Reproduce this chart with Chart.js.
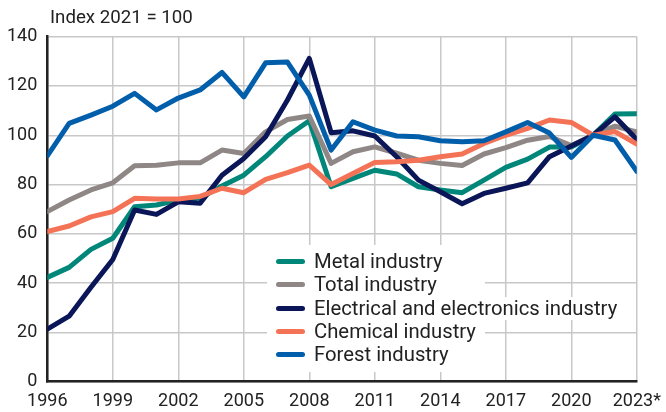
<!DOCTYPE html>
<html>
<head>
  <title>Industry index</title>
  <script src="https://cdn.jsdelivr.net/npm/chart.js"></script>
  <style>
    body { margin: 0; background: #fff; font-family: Roboto, sans-serif; color: #222; }
    #wrap { position: relative; width: 666px; height: 412px; }
    #title { position: absolute; left: 50px; top: 5px; font-size: 18.7px; line-height: 24px; }
    #legend { position: absolute; left: 267px; top: 245px; width: 218px; height: 127px; background: #fff; box-sizing: border-box; padding: 5px 0 0 9px; }
    .row { display: table; height: 23.3px; background: #fff; padding-right: 7px; font-size: 20.3px; line-height: 23.3px; white-space: nowrap; }
    .swatch { display: inline-block; width: 29px; height: 5px; border-radius: 3px; vertical-align: middle; margin-right: 9px; position: relative; top: -1px; }
  </style>
</head>
<body>
  <div id="wrap">
    <canvas id="chart" width="666" height="412"></canvas>
    <div id="title">Index 2021 = 100</div>
    <div id="legend"></div>
  </div>

  <script>
    const years = [1996, 1997, 1998, 1999, 2000, 2001, 2002, 2003, 2004, 2005, 2006, 2007, 2008, 2009,
                   2010, 2011, 2012, 2013, 2014, 2015, 2016, 2017, 2018, 2019, 2020, 2021, 2022, 2023];

    const metal = [42.3, 46.4, 53.7, 58.2, 71, 71.7, 73.7, 74.5, 79.4, 83.8, 91.3, 99.7, 105.9, 79.1,
                   82.5, 85.8, 84.3, 79.1, 77.8, 76.7, 81.8, 87, 90.3, 95.2, 95.2, 100, 108.6, 108.7];
    const total = [69, 73.7, 77.8, 80.7, 87.6, 87.8, 88.8, 88.8, 94, 92.6, 101.4, 106.4, 107.8, 88.6,
                   93.3, 95.3, 92.7, 89.9, 88.6, 87.7, 92.4, 95, 98, 99.5, 95.8, 100, 103.7, 101.3];
    const electrical = [21.3, 26.6, 38.3, 49.6, 69.7, 67.9, 73, 72.4, 83.8, 90.6, 99.4, 114.3, 131.2, 101,
                        101.8, 99.7, 91.3, 81.8, 77.1, 72.2, 76.4, 78.5, 80.7, 91.3, 95.6, 100, 107.5, 98.3];
    const chemical = [60.9, 63.2, 66.9, 69, 74.4, 74.1, 74.1, 75.2, 78.5, 76.7, 82.1, 84.8, 87.9, 80,
                      84.5, 89, 89.3, 89.9, 91.3, 92.4, 96.7, 100, 102.8, 106.2, 105.2, 100, 101.5, 96.4];
    const forest = [91.6, 104.8, 108.2, 111.8, 117, 110.3, 115.1, 118.4, 125.5, 115.6, 129.4, 129.7, 116.3, 94,
                    105.5, 102.1, 99.7, 99.4, 97.8, 97.4, 97.8, 101.4, 105.2, 100.9, 91, 100, 98.1, 85.4];

    // legend order, first one is drawn at the bottom
    const series = [
      { label: 'Metal industry', values: metal, color: '#00877a' },
      { label: 'Total industry', values: total, color: '#8e8786' },
      { label: 'Electrical and electronics industry', values: electrical, color: '#0a1658' },
      { label: 'Chemical industry', values: chemical, color: '#f47356' },
      { label: 'Forest industry', values: forest, color: '#005eab' },
    ];

    const datasets = series.slice().reverse().map(s => ({
      label: s.label,
      data: years.map((y, i) => ({ x: y, y: s.values[i] })),
      borderColor: s.color,
      backgroundColor: s.color,
      borderWidth: 5,
      borderCapStyle: 'round',
      borderJoinStyle: 'round',
      pointRadius: 0,
      tension: 0,
      fill: false,
    }));

    const tickFont = { family: 'Roboto', size: 18 };

    new Chart(document.getElementById('chart').getContext('2d'), {
      type: 'line',
      data: { datasets: datasets },
      options: {
        responsive: false,
        animation: false,
        layout: { padding: { top: 36.7, right: 29.2, left: 0, bottom: 0 } },
        plugins: { legend: { display: false }, tooltip: { enabled: false } },
        scales: {
          x: {
            type: 'linear',
            min: 1996,
            max: 2023,
            // keep the plot edges where the reference has them
            afterFit: s => { s.height = 30.3; s.paddingLeft = 0; s.paddingRight = 0; },
            ticks: {
              stepSize: 3,
              autoSkip: false,
              maxRotation: 0,
              padding: 9,
              color: '#222',
              font: tickFont,
              callback: v => v === 2023 ? '2023*' : String(v),
            },
            grid: { color: '#c8c8c8', lineWidth: 1.5, drawTicks: false },
            border: { color: '#222', width: 2.5 },
          },
          y: {
            min: 0,
            max: 140,
            afterFit: s => { s.width = 47.3; s.paddingTop = 0; s.paddingBottom = 0; },
            ticks: { stepSize: 20, padding: 10, color: '#222', font: tickFont },
            grid: { color: '#c8c8c8', lineWidth: 1.5, drawTicks: false },
            border: { color: '#222', width: 2.5 },
          },
        },
      },
    });

    const legend = document.getElementById('legend');
    series.forEach(s => {
      const row = document.createElement('div');
      row.className = 'row';
      row.innerHTML = '<span class="swatch" style="background:' + s.color + '"></span>' + s.label;
      legend.appendChild(row);
    });
  </script>
</body>
</html>
